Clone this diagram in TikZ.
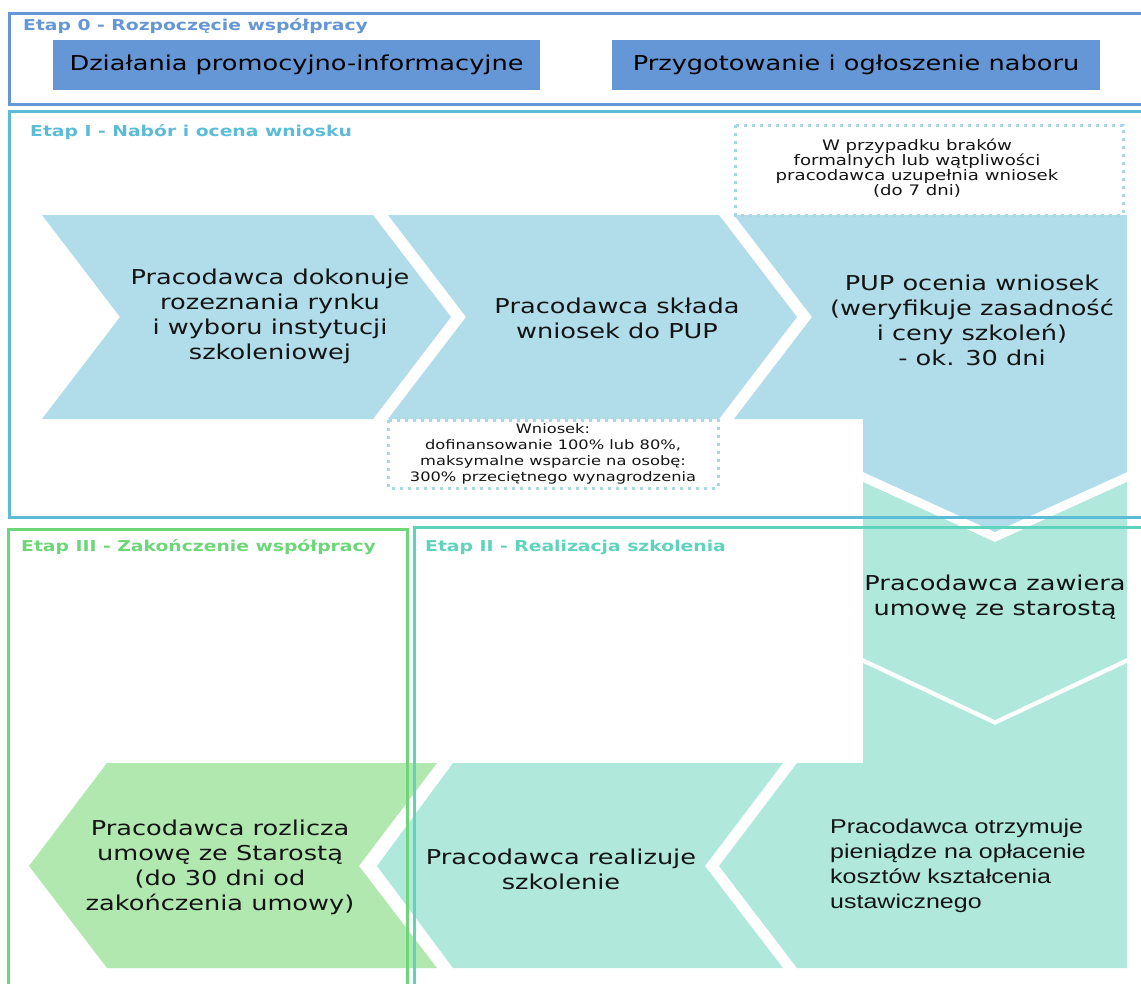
\documentclass[tikz,border=0pt]{standalone}
\usepackage{fontspec}
\setmainfont[FakeStretch=1.25]{DejaVu Sans}
\newfontfamily\arialfont[FakeStretch=1.25]{Liberation Sans}
\usepackage{tikz}
\usetikzlibrary{positioning}

\definecolor{zerocol}{HTML}{6596D6}
\definecolor{onecol}{HTML}{5CBCD7}
\definecolor{twocol}{HTML}{5FD3BC}
\definecolor{threecol}{HTML}{6DD678}
\definecolor{onefill}{HTML}{B0DDE9}
\definecolor{twofill}{HTML}{B0E8DC}
\definecolor{threefill}{HTML}{B0E8B0}
\definecolor{notecol}{HTML}{A8D8E8}

\tikzset{
  stageframe/.style={line width=3pt},
  stagetitle/.style={anchor=west, inner sep=0pt, font=\fontsize{15}{18}\selectfont\bfseries},
  taskbox/.style={fill=zerocol, minimum width=487pt, minimum height=50pt,
    font=\fontsize{20.5}{25}\selectfont},
  steptext/.style={align=center, inner sep=0pt, text=black!92,
    font=\fontsize{20.5}{25}\selectfont},
  notebox/.style={draw=notecol, line width=3pt, dash pattern=on 3pt off 5pt},
  notetext/.style={align=center, inner sep=0pt, text=black!92}
}

\begin{document}
\begin{tikzpicture}[x=1pt,y=-1pt]

    \useasboundingbox (0,0) rectangle (1141,983);
    \clip (0,0) rectangle (1141,983);

    % etap 0
    \draw [stageframe, zerocol] (9,13) rectangle (1170,104);
    \node [stagetitle, text=zerocol] (title0) at (23,26) {Etap 0 - Rozpoczęcie współpracy};
    \node [taskbox] (promo) at (296.5,65) {Działania promocyjno-informacyjne};
    \node [taskbox, minimum width=488pt] (nabor) at (856,65) {Przygotowanie i ogłoszenie naboru};

    % etap I
    \fill [onefill] (42,215) -- (373,215) -- (451,317) -- (373,419) -- (42,419) -- (120,317) -- cycle;
    \fill [onefill] (388,215) -- (719,215) -- (797,317) -- (719,419) -- (388,419) -- (466,317) -- cycle;
    \fill [onefill] (734,215) -- (1127,215) -- (1127,472) -- (995,532) -- (863,472)
        -- (863,419) -- (734,419) -- (812,317) -- cycle;

    % etap II
    \fill [twofill] (863,482) -- (995,542) -- (1127,482) -- (1127,658) -- (995,720) -- (863,658) -- cycle;
    \fill [twofill] (863,663) -- (995,725) -- (1127,663) -- (1127,968) -- (797,968)
        -- (719,866) -- (797,763) -- (863,763) -- cycle;
    \fill [twofill] (453,763) -- (783,763) -- (705,866) -- (783,968) -- (453,968) -- (377,866) -- cycle;

    % etap III
    \fill [threefill] (107,763) -- (437,763) -- (359,866) -- (437,968) -- (107,968) -- (29,866) -- cycle;

    % uwagi
    \draw [notebox] (735,125) rectangle (1123,215);
    \draw [notebox] (388,420) rectangle (718,488);

    % ramki
    \draw [stageframe, onecol] (9,111) rectangle (1170,517);
    \draw [stageframe, threecol] (8,529) rectangle (407,1010);
    \draw [stageframe, twocol] (414,527) rectangle (1170,1010);

    \node [stagetitle, text=onecol] (title1) at (30,132) {Etap I - Nabór i ocena wniosku};
    \node [stagetitle, text=threecol] (title3) at (21,547) {Etap III - Zakończenie współpracy};
    \node [stagetitle, text=twocol] (title2) at (425,547) {Etap II - Realizacja szkolenia};

    % teksty
    \node [steptext] (rynek) at (270,316) {Pracodawca dokonuje\\rozeznania rynku\\i wyboru instytucji\\szkoleniowej};
    \node [steptext] (sklada) at (617,318) {Pracodawca składa\\wniosek do PUP};
    \node [steptext] (ocena) at (972,320) {PUP ocenia wniosek\\(weryfikuje zasadność\\i ceny szkoleń)\\- ok. 30 dni};
    \node [steptext] (umowa) at (995,597) {Pracodawca zawiera\\umowę ze starostą};
    \node [steptext, align=left, anchor=west, font=\arialfont\fontsize{20}{25}\selectfont]
        (pieniadze) at (830,866) {Pracodawca otrzymuje\\pieniądze na opłacenie\\kosztów kształcenia\\ustawicznego};
    \node [steptext] (realizuje) at (561,869) {Pracodawca realizuje\\szkolenie};
    \node [steptext] (rozlicza) at (220,867) {Pracodawca rozlicza\\umowę ze Starostą\\(do 30 dni od\\zakończenia umowy)};

    \node [notetext, font=\fontsize{14.5}{15}\selectfont] (braki) at (917,168)
        {W przypadku braków\\formalnych lub wątpliwości\\pracodawca uzupełnia wniosek\\(do 7 dni)};
    \node [notetext, font=\fontsize{13}{16}\selectfont] (wniosek) at (553,454)
        {Wniosek:\\dofinansowanie 100\% lub 80\%,\\maksymalne wsparcie na osobę:\\300\% przeciętnego wynagrodzenia};

\end{tikzpicture}
\end{document}
